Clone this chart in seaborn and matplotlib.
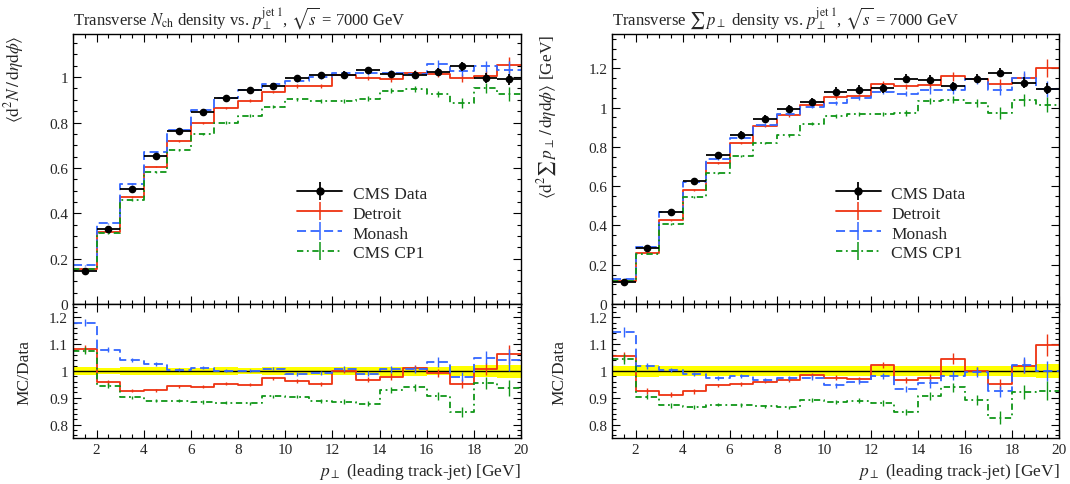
import numpy as np
import pandas as pd
import matplotlib
matplotlib.use("Agg")
import matplotlib.pyplot as plt
from matplotlib.lines import Line2D
from matplotlib.ticker import MultipleLocator, FuncFormatter
import seaborn as sns

# bin edges in leading track-jet pT [GeV]
edges = list(range(1, 21))

# transverse Nch density (left)
nch_data = [0.144, 0.330, 0.508, 0.653, 0.763, 0.846, 0.907, 0.944, 0.961, 0.997,
            1.009, 1.010, 1.030, 1.012, 1.009, 1.022, 1.047, 0.997, 0.990]
nch_data_err = [0.002, 0.004, 0.007, 0.009, 0.010, 0.011, 0.012, 0.012, 0.013, 0.014,
                0.015, 0.016, 0.016, 0.017, 0.017, 0.017, 0.018, 0.023, 0.024]
nch_detroit = [0.156, 0.316, 0.471, 0.606, 0.719, 0.797, 0.864, 0.896, 0.935, 0.961,
               0.960, 1.010, 0.997, 0.991, 1.019, 1.015, 0.997, 1.003, 1.052]
nch_monash = [0.170, 0.356, 0.529, 0.670, 0.767, 0.856, 0.908, 0.945, 0.970, 0.985,
              1.001, 1.019, 1.019, 1.018, 1.015, 1.056, 1.025, 1.047, 1.030]
nch_cp1 = [0.155, 0.312, 0.458, 0.581, 0.679, 0.748, 0.800, 0.830, 0.870, 0.902,
           0.896, 0.895, 0.905, 0.941, 0.947, 0.926, 0.886, 0.953, 0.926]
nch_detroit_err = [0.002, 0.003, 0.003, 0.004, 0.004, 0.005, 0.005, 0.006, 0.006, 0.007,
                   0.008, 0.009, 0.010, 0.012, 0.013, 0.015, 0.018, 0.022, 0.035]
nch_monash_err = [0.002, 0.003, 0.003, 0.004, 0.004, 0.005, 0.005, 0.006, 0.006, 0.007,
                  0.008, 0.009, 0.010, 0.012, 0.013, 0.020, 0.018, 0.025, 0.040]
nch_cp1_err = [0.002, 0.003, 0.003, 0.004, 0.004, 0.005, 0.005, 0.006, 0.006, 0.007,
               0.008, 0.009, 0.010, 0.012, 0.013, 0.015, 0.020, 0.022, 0.030]

# transverse sum pT density (right)
spt_data = [0.110, 0.283, 0.467, 0.629, 0.760, 0.862, 0.944, 0.994, 1.029, 1.082,
            1.091, 1.099, 1.147, 1.142, 1.108, 1.147, 1.178, 1.127, 1.096]
spt_data_err = [0.002, 0.006, 0.009, 0.012, 0.015, 0.017, 0.019, 0.020, 0.021, 0.022,
                0.022, 0.022, 0.023, 0.023, 0.022, 0.023, 0.024, 0.027, 0.028]
spt_detroit = [0.116, 0.262, 0.426, 0.581, 0.719, 0.820, 0.907, 0.961, 1.012, 1.055,
               1.058, 1.122, 1.108, 1.114, 1.159, 1.147, 1.122, 1.149, 1.202]
spt_monash = [0.126, 0.288, 0.469, 0.622, 0.740, 0.845, 0.914, 0.968, 1.004, 1.024,
              1.047, 1.079, 1.072, 1.089, 1.089, 1.144, 1.089, 1.152, 1.096]
spt_cp1 = [0.115, 0.256, 0.407, 0.545, 0.665, 0.753, 0.820, 0.859, 0.919, 0.958,
           0.970, 0.968, 0.973, 1.035, 1.040, 1.023, 0.973, 1.040, 1.016]
spt_detroit_err = [0.002, 0.003, 0.004, 0.005, 0.005, 0.006, 0.006, 0.007, 0.008, 0.009,
                   0.010, 0.012, 0.013, 0.015, 0.022, 0.018, 0.022, 0.030, 0.045]
spt_monash_err = [0.002, 0.003, 0.004, 0.005, 0.005, 0.006, 0.006, 0.007, 0.008, 0.009,
                  0.010, 0.012, 0.013, 0.018, 0.018, 0.022, 0.025, 0.035, 0.040]
spt_cp1_err = [0.002, 0.003, 0.004, 0.005, 0.005, 0.006, 0.006, 0.007, 0.008, 0.009,
               0.010, 0.012, 0.013, 0.016, 0.018, 0.020, 0.030, 0.030, 0.040]

labels = ["CMS Data", "Detroit", "Monash", "CMS CP1"]
colors = {"Detroit": "#EE3311", "Monash": "#3366FF", "CMS CP1": "#109618"}
styles = {"Detroit": "-", "Monash": (0, (5, 2.5)), "CMS CP1": (0, (3.5, 2, 1, 2))}

sns.set_theme(style="ticks")
plt.rcParams["font.family"] = ["Liberation Serif", "DejaVu Serif"]
plt.rcParams["mathtext.fontset"] = "stix"
plt.rcParams["axes.linewidth"] = 1.0
plt.rcParams["axes.edgecolor"] = "black"

fmt = FuncFormatter(lambda v, p: f"{v:g}")


def steps(ax, vals, name):
    df = pd.DataFrame({"x": edges, "y": list(vals) + [vals[-1]]})
    sns.lineplot(data=df, x="x", y="y", ax=ax, color=colors[name], linestyle=styles[name],
                 lw=1.3, drawstyle="steps-post", estimator=None, sort=False)


def style_axes(ax, ymaj, ymin):
    ax.set_xlim(1, 20)
    ax.xaxis.set_major_locator(MultipleLocator(2))
    ax.xaxis.set_minor_locator(MultipleLocator(0.5))
    ax.yaxis.set_major_locator(MultipleLocator(ymaj))
    ax.yaxis.set_minor_locator(MultipleLocator(ymin))
    ax.xaxis.set_major_formatter(fmt)
    ax.yaxis.set_major_formatter(fmt)
    ax.tick_params(which="both", direction="in", top=True, right=True, labelsize=11,
                   color="black", width=0.8)
    ax.tick_params(which="major", length=6)
    ax.tick_params(which="minor", length=3)
    ax.set_xlabel("")
    ax.set_ylabel("")


def panel(x0, w, data, derr, mcs, title, ylab, ymax, ylab_x, rlab_x):
    ax = fig.add_axes([x0, 0.3711, w, 0.5567])
    rax = fig.add_axes([x0, 0.0948, w, 0.2763], sharex=ax)
    data = np.array(data)
    derr = np.array(derr)
    centers = np.array(edges[:-1]) + 0.5

    for name, vals, err in mcs:
        steps(ax, vals, name)
        ax.errorbar(centers, vals, yerr=err, fmt="none", ecolor=colors[name], elinewidth=1.0)
    ax.errorbar(centers, data, xerr=0.5, yerr=derr, fmt="o", color="black", ms=4.5,
                elinewidth=1.3, capsize=0, zorder=5)
    ax.set_ylim(0, ymax)
    style_axes(ax, 0.2, 0.05)
    ax.tick_params(labelbottom=False)
    ax.set_title(title, loc="left", fontsize=12, pad=7)
    ax.set_ylabel(ylab, loc="top", fontsize=12.5)
    ax.yaxis.set_label_coords(ylab_x, 1.0)

    handles = [(Line2D([], [], color="black", marker="o", ms=5, lw=1.3),
                Line2D([], [], color="black", marker="|", ms=13, mew=1.3, ls="none"))]
    for name, vals, err in mcs:
        handles.append(Line2D([], [], color=colors[name], ls=styles[name], lw=1.3,
                              marker="|", ms=13, mew=1.1))
    ax.legend(handles, labels, loc="upper left", bbox_to_anchor=(0.485, 0.465), frameon=False,
              fontsize=12.5, handlelength=2.6, labelspacing=0.22, handletextpad=0.6,
              borderaxespad=0)

    # ratio panel
    band_lo = list(1 - derr / data)
    band_hi = list(1 + derr / data)
    rax.fill_between(edges, band_lo + [band_lo[-1]], band_hi + [band_hi[-1]], step="post",
                     color="#FFFF00", lw=0)
    rax.axhline(1, color="black", lw=1.0)
    for name, vals, err in mcs:
        ratio = np.array(vals) / data
        steps(rax, ratio, name)
        rax.errorbar(centers, ratio, yerr=np.array(err) / data, fmt="none",
                     ecolor=colors[name], elinewidth=1.0)
    rax.set_ylim(0.75, 1.25)
    style_axes(rax, 0.1, 0.02)
    rax.set_ylabel("MC/Data", fontsize=12.5)
    rax.yaxis.set_label_coords(rlab_x, 0.5)
    rax.set_xlabel(r"$p_\perp$ (leading track-jet) [GeV]", loc="right", fontsize=12.5)
    return ax, rax


fig = plt.figure(figsize=(10.7, 4.85), dpi=100)

panel(0.0682, 0.4187, nch_data, nch_data_err,
      [("Detroit", nch_detroit, nch_detroit_err),
       ("Monash", nch_monash, nch_monash_err),
       ("CMS CP1", nch_cp1, nch_cp1_err)],
      r"Transverse $N_{\mathrm{ch}}$ density vs. $p_\perp^{\mathrm{jet\ 1}}$, $\sqrt{s}$ = 7000 GeV",
      r"$\langle\mathrm{d}^2 N\,/\,\mathrm{d}\eta\mathrm{d}\phi\rangle$", 1.19, -0.105, -0.09)

panel(0.572, 0.4178, spt_data, spt_data_err,
      [("Detroit", spt_detroit, spt_detroit_err),
       ("Monash", spt_monash, spt_monash_err),
       ("CMS CP1", spt_cp1, spt_cp1_err)],
      r"Transverse $\sum\, p_\perp$ density vs. $p_\perp^{\mathrm{jet\ 1}}$, $\sqrt{s}$ = 7000 GeV",
      r"$\langle\mathrm{d}^2 \sum\, p_\perp\,/\,\mathrm{d}\eta\mathrm{d}\phi\rangle$ [GeV]", 1.375,
      -0.118, -0.1)

fig.savefig("out.png", dpi=100)
